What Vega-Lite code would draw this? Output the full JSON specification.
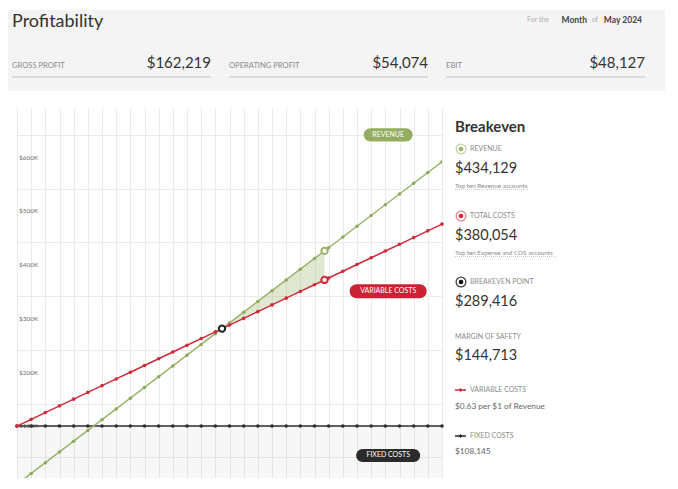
{
  "$schema": "https://vega.github.io/schema/vega-lite/v6.json",
  "background": "#ffffff",
  "padding": {"left": 8, "top": 10, "right": 0, "bottom": 0},
  "config": {"view": {"stroke": null}, "font": "Lato", "text": {"font": "Lato"}},
  "bounds": "flush",
  "spacing": 17,
  "datasets": {
    "kpis": [
      {"kpi": "GROSS PROFIT", "value": "$162,219"},
      {"kpi": "OPERATING PROFIT", "value": "$54,074"},
      {"kpi": "EBIT", "value": "$48,127"}
    ],
    "lines": [
      {"sales": 0, "revenue": 0, "totalCosts": 108145, "fixedCosts": 108145},
      {"sales": 20000, "revenue": 20000, "totalCosts": 120671, "fixedCosts": 108145},
      {"sales": 40000, "revenue": 40000, "totalCosts": 133197, "fixedCosts": 108145},
      {"sales": 60000, "revenue": 60000, "totalCosts": 145723, "fixedCosts": 108145},
      {"sales": 80000, "revenue": 80000, "totalCosts": 158249, "fixedCosts": 108145},
      {"sales": 100000, "revenue": 100000, "totalCosts": 170775, "fixedCosts": 108145},
      {"sales": 120000, "revenue": 120000, "totalCosts": 183301, "fixedCosts": 108145},
      {"sales": 140000, "revenue": 140000, "totalCosts": 195827, "fixedCosts": 108145},
      {"sales": 160000, "revenue": 160000, "totalCosts": 208353, "fixedCosts": 108145},
      {"sales": 180000, "revenue": 180000, "totalCosts": 220879, "fixedCosts": 108145},
      {"sales": 200000, "revenue": 200000, "totalCosts": 233405, "fixedCosts": 108145},
      {"sales": 220000, "revenue": 220000, "totalCosts": 245931, "fixedCosts": 108145},
      {"sales": 240000, "revenue": 240000, "totalCosts": 258457, "fixedCosts": 108145},
      {"sales": 260000, "revenue": 260000, "totalCosts": 270983, "fixedCosts": 108145},
      {"sales": 280000, "revenue": 280000, "totalCosts": 283509, "fixedCosts": 108145},
      {"sales": 300000, "revenue": 300000, "totalCosts": 296035, "fixedCosts": 108145},
      {"sales": 320000, "revenue": 320000, "totalCosts": 308561, "fixedCosts": 108145},
      {"sales": 340000, "revenue": 340000, "totalCosts": 321087, "fixedCosts": 108145},
      {"sales": 360000, "revenue": 360000, "totalCosts": 333613, "fixedCosts": 108145},
      {"sales": 380000, "revenue": 380000, "totalCosts": 346139, "fixedCosts": 108145},
      {"sales": 400000, "revenue": 400000, "totalCosts": 358665, "fixedCosts": 108145},
      {"sales": 420000, "revenue": 420000, "totalCosts": 371191, "fixedCosts": 108145},
      {"sales": 440000, "revenue": 440000, "totalCosts": 383717, "fixedCosts": 108145},
      {"sales": 460000, "revenue": 460000, "totalCosts": 396243, "fixedCosts": 108145},
      {"sales": 480000, "revenue": 480000, "totalCosts": 408769, "fixedCosts": 108145},
      {"sales": 500000, "revenue": 500000, "totalCosts": 421295, "fixedCosts": 108145},
      {"sales": 520000, "revenue": 520000, "totalCosts": 433821, "fixedCosts": 108145},
      {"sales": 540000, "revenue": 540000, "totalCosts": 446347, "fixedCosts": 108145},
      {"sales": 560000, "revenue": 560000, "totalCosts": 458873, "fixedCosts": 108145},
      {"sales": 580000, "revenue": 580000, "totalCosts": 471399, "fixedCosts": 108145},
      {"sales": 600000, "revenue": 600000, "totalCosts": 483925, "fixedCosts": 108145}
    ],
    "yticks": [
      {"sales": 0, "value": 100000, "label": "$100K"},
      {"sales": 0, "value": 200000, "label": "$200K"},
      {"sales": 0, "value": 300000, "label": "$300K"},
      {"sales": 0, "value": 400000, "label": "$400K"},
      {"sales": 0, "value": 500000, "label": "$500K"},
      {"sales": 0, "value": 600000, "label": "$600K"}
    ],
    "margin": [
      {"sales": 289416, "revenue": 289416, "totalCosts": 289416},
      {"sales": 434129, "revenue": 434129, "totalCosts": 380054}
    ],
    "markers": [
      {"sales": 434129, "value": 434129, "series": "Revenue"},
      {"sales": 434129, "value": 380054, "series": "Total costs"},
      {"sales": 289416, "value": 289416, "series": "Breakeven point"}
    ],
    "pills": [
      {"label": "REVENUE", "sales": 524000, "value": 650000},
      {"label": "VARIABLE COSTS", "sales": 524000, "value": 359000},
      {"label": "FIXED COSTS", "sales": 524000, "value": 53400}
    ],
    "side": [
      {"block": "REVENUE", "part": "label", "text": "REVENUE"},
      {"block": "REVENUE", "part": "value", "text": "$434,129"},
      {"block": "REVENUE", "part": "note", "text": "Top ten Revenue accounts"},
      {"block": "TOTAL COSTS", "part": "label", "text": "TOTAL COSTS"},
      {"block": "TOTAL COSTS", "part": "value", "text": "$380,054"},
      {"block": "TOTAL COSTS", "part": "note", "text": "Top ten Expense and COS accounts"},
      {"block": "BREAKEVEN POINT", "part": "label", "text": "BREAKEVEN POINT"},
      {"block": "BREAKEVEN POINT", "part": "value", "text": "$289,416"},
      {"block": "MARGIN OF SAFETY", "part": "label", "text": "MARGIN OF SAFETY"},
      {"block": "MARGIN OF SAFETY", "part": "value", "text": "$144,713"},
      {"block": "VARIABLE COSTS", "part": "label", "text": "VARIABLE COSTS"},
      {"block": "VARIABLE COSTS", "part": "note", "text": "$0.63 per $1 of Revenue"},
      {"block": "FIXED COSTS", "part": "label", "text": "FIXED COSTS"},
      {"block": "FIXED COSTS", "part": "note", "text": "$108,145"}
    ]
  },
  "vconcat": [
    {
      "width": 657,
      "height": 81,
      "view": {"fill": "#f4f4f4", "stroke": null},
      "data": {"name": "kpis"},
      "encoding": {
        "x": {"field": "kpi", "type": "nominal", "sort": null, "scale": {"type": "band", "domain": ["GROSS PROFIT", "OPERATING PROFIT", "EBIT"], "range": [4, 637], "paddingInner": 0.083, "paddingOuter": 0}, "axis": null},
        "y": {"datum": "kpi", "type": "nominal", "scale": {"type": "point", "domain": ["title", "kpi"], "range": [11, 56], "padding": 0}, "axis": null}
      },
      "layer": [
        {
          "mark": {"type": "tick", "orient": "horizontal", "size": 199, "thickness": 1.5, "color": "#d3d3d3", "yOffset": 11, "opacity": 1},
          "encoding": {}
        },
        {
          "mark": {"type": "text", "align": "left", "fontSize": 7.6, "color": "#8a8a8a"},
          "encoding": {"x": {"field": "kpi", "type": "nominal", "bandPosition": 0}, "text": {"field": "kpi"}}
        },
        {
          "mark": {"type": "text", "align": "right", "fontSize": 15, "color": "#333333", "dy": -3},
          "encoding": {"x": {"field": "kpi", "type": "nominal", "bandPosition": 1}, "text": {"field": "value"}}
        },
        {
          "data": {"values": [{"text": "Profitability"}]},
          "mark": {"type": "text", "align": "left", "fontSize": 18, "color": "#333333", "dy": 1},
          "encoding": {"x": {"datum": "GROSS PROFIT", "type": "nominal", "bandPosition": 0}, "y": {"datum": "title", "type": "nominal"}, "text": {"field": "text"}}
        },
        {
          "data": {"values": [{"text": "May 2024"}]},
          "mark": {"type": "text", "align": "right", "fontSize": 8.5, "fontWeight": "bold", "color": "#444444", "dx": -3, "dy": -1},
          "encoding": {"x": {"datum": "EBIT", "type": "nominal", "bandPosition": 1}, "y": {"datum": "title", "type": "nominal"}, "text": {"field": "text"}}
        },
        {
          "data": {"values": [{"text": "of"}]},
          "mark": {"type": "text", "align": "right", "fontSize": 7, "color": "#b0b0b0", "dx": -47, "dy": -1},
          "encoding": {"x": {"datum": "EBIT", "type": "nominal", "bandPosition": 1}, "y": {"datum": "title", "type": "nominal"}, "text": {"field": "text"}}
        },
        {
          "data": {"values": [{"text": "Month"}]},
          "mark": {"type": "text", "align": "right", "fontSize": 8.5, "fontWeight": "bold", "color": "#444444", "dx": -58, "dy": -1},
          "encoding": {"x": {"datum": "EBIT", "type": "nominal", "bandPosition": 1}, "y": {"datum": "title", "type": "nominal"}, "text": {"field": "text"}}
        },
        {
          "data": {"values": [{"text": "For the"}]},
          "mark": {"type": "text", "align": "right", "fontSize": 7, "color": "#b0b0b0", "dx": -96, "dy": -1},
          "encoding": {"x": {"datum": "EBIT", "type": "nominal", "bandPosition": 1}, "y": {"datum": "title", "type": "nominal"}, "text": {"field": "text"}}
        }
      ]
    },
    {
      "bounds": "flush",
      "spacing": 8,
      "hconcat": [
        {
          "width": 1,
          "height": 370,
          "data": {"values": [{"t": ""}]},
          "mark": {"type": "text"},
          "encoding": {"text": {"field": "t"}}
        },
        {
          "width": 425,
          "height": 370,
          "data": {"name": "lines"},
          "encoding": {
            "x": {
              "field": "sales", "type": "quantitative",
              "scale": {"domain": [0, 600000], "nice": false, "zero": false},
              "axis": {"values": [0, 20000, 40000, 60000, 80000, 100000, 120000, 140000, 160000, 180000, 200000, 220000, 240000, 260000, 280000, 300000, 320000, 340000, 360000, 380000, 400000, 420000, 440000, 460000, 480000, 500000, 520000, 540000, 560000, 580000, 600000], "grid": true, "gridColor": "#ebebeb", "gridWidth": 1, "labels": false, "ticks": false, "domain": false, "title": null}
            }
          },
          "layer": [
            {
              "mark": {"type": "area", "color": "#000000", "opacity": 0.03, "clip": true},
              "encoding": {
                "y": {
                  "field": "fixedCosts", "type": "quantitative",
                  "scale": {"domain": [11500, 700000], "nice": false, "zero": false},
                  "axis": {"values": [50000, 100000, 150000, 200000, 250000, 300000, 350000, 400000, 450000, 500000, 550000, 600000, 650000, 700000], "grid": true, "gridColor": "#ebebeb", "gridWidth": 1, "labels": false, "ticks": false, "domain": false, "title": null}
                },
                "y2": {"datum": 0}
              }
            },
            {
              "data": {"name": "yticks"},
              "mark": {"type": "text", "align": "left", "baseline": "bottom", "dx": 2, "dy": -1, "fontSize": 6.5, "color": "#707070", "opacity": 1},
              "encoding": {"y": {"field": "value", "type": "quantitative"}, "text": {"field": "label", "type": "nominal"}}
            },
            {
              "data": {"name": "margin"},
              "mark": {"type": "area", "color": "#9ab46a", "opacity": 0.3},
              "encoding": {"y": {"field": "revenue", "type": "quantitative"}, "y2": {"field": "totalCosts"}}
            },
            {
              "mark": {"type": "line", "color": "#2d2d2d", "strokeWidth": 1.5},
              "encoding": {"y": {"field": "fixedCosts", "type": "quantitative"}}
            },
            {
              "mark": {"type": "point", "filled": true, "color": "#2d2d2d", "size": 13, "opacity": 1},
              "encoding": {"y": {"field": "fixedCosts", "type": "quantitative"}}
            },
            {
              "mark": {"type": "line", "color": "#9ab46a", "strokeWidth": 1.5, "clip": true},
              "encoding": {"y": {"field": "revenue", "type": "quantitative"}}
            },
            {
              "mark": {"type": "point", "filled": true, "color": "#8fab5c", "size": 13, "opacity": 1, "clip": true},
              "encoding": {"y": {"field": "revenue", "type": "quantitative"}}
            },
            {
              "mark": {"type": "line", "color": "#cf2a3a", "strokeWidth": 1.5},
              "encoding": {"y": {"field": "totalCosts", "type": "quantitative"}}
            },
            {
              "mark": {"type": "point", "filled": true, "color": "#cf2a3a", "size": 13, "opacity": 1},
              "encoding": {"y": {"field": "totalCosts", "type": "quantitative"}}
            },
            {
              "data": {"name": "markers"},
              "mark": {"type": "point", "filled": false, "fill": "#ffffff", "strokeWidth": 2, "size": 40, "opacity": 1},
              "encoding": {
                "y": {"field": "value", "type": "quantitative"},
                "stroke": {"field": "series", "type": "nominal", "scale": {"domain": ["Revenue", "Total costs", "Breakeven point"], "range": ["#9ab46a", "#cf2a3a", "#222222"]}, "legend": null}
              }
            },
            {
              "data": {"name": "pills"},
              "mark": {"type": "point", "filled": true, "size": 6400, "opacity": 1, "strokeWidth": 0},
              "encoding": {
                "y": {"field": "value", "type": "quantitative"},
                "fill": {"field": "label", "type": "nominal", "scale": {"domain": ["REVENUE", "VARIABLE COSTS", "FIXED COSTS"], "range": ["#93ae60", "#cc2233", "#2b2b2b"]}, "legend": null},
                "shape": {"field": "label", "type": "nominal", "scale": {"domain": ["REVENUE", "VARIABLE COSTS", "FIXED COSTS"], "range": [
                  "M-0.445,-0.1675 L0.445,-0.1675 A0.1675,0.1675 0 0 1 0.445,0.1675 L-0.445,0.1675 A0.1675,0.1675 0 0 1 -0.445,-0.1675 Z",
                  "M-0.7875,-0.175 L0.7875,-0.175 A0.175,0.175 0 0 1 0.7875,0.175 L-0.7875,0.175 A0.175,0.175 0 0 1 -0.7875,-0.175 Z",
                  "M-0.6375,-0.1625 L0.6375,-0.1625 A0.1625,0.1625 0 0 1 0.6375,0.1625 L-0.6375,0.1625 A0.1625,0.1625 0 0 1 -0.6375,-0.1625 Z"
                ]}, "legend": null}
              }
            },
            {
              "data": {"name": "pills"},
              "mark": {"type": "text", "color": "#ffffff", "fontSize": 7, "align": "center", "baseline": "middle"},
              "encoding": {"y": {"field": "value", "type": "quantitative"}, "text": {"field": "label"}}
            }
          ]
        },
        {
          "spacing": 0,
          "bounds": "flush",
          "vconcat": [
            {
              "width": 195,
              "height": 33,
              "data": {"values": [{"title": "Breakeven"}]},
              "layer": [
                {"mark": {"type": "text", "x": 5, "y": 19, "align": "left", "fontSize": 15, "fontWeight": "bold", "color": "#333333"}, "encoding": {"text": {"field": "title"}}},
                {"mark": {"type": "rule", "x": 5, "x2": 195, "y": 30, "color": "#e4e4e4", "strokeWidth": 1}, "encoding": {}}
              ]
            },
            {
              "width": 195,
              "height": 67,
              "data": {"name": "side"},
              "transform": [{"filter": "datum.block === 'REVENUE'"}],
              "encoding": {"y": {"field": "part", "type": "nominal", "scale": {"type": "point", "domain": ["label", "value", "note"], "range": [8, 45], "padding": 0}, "axis": null}},
              "layer": [
                {"transform": [{"filter": "datum.part === 'label'"}], "mark": {"type": "point", "x": 11, "filled": false, "fill": "#ffffff", "stroke": "#c7d5ac", "strokeWidth": 1.3, "size": 95, "opacity": 1}},
                {"transform": [{"filter": "datum.part === 'label'"}], "mark": {"type": "point", "x": 11, "filled": true, "color": "#9ab46a", "size": 22, "opacity": 1}},
                {"transform": [{"filter": "datum.part === 'label'"}], "mark": {"type": "text", "x": 20, "align": "left", "fontSize": 7, "color": "#8c8c8c"}, "encoding": {"text": {"field": "text"}}},
                {"transform": [{"filter": "datum.part === 'value'"}], "mark": {"type": "text", "x": 5, "align": "left", "fontSize": 14.5, "color": "#333333", "dy": 1}, "encoding": {"text": {"field": "text"}}},
                {"transform": [{"filter": "datum.part === 'note'"}], "mark": {"type": "text", "x": 5, "align": "left", "fontSize": 6.3, "color": "#8c8c8c"}, "encoding": {"text": {"field": "text"}}},
                {"transform": [{"filter": "datum.part === 'note'"}], "mark": {"type": "rule", "x": 5, "x2": 79, "yOffset": 3.5, "color": "#bbbbbb", "strokeWidth": 0.8, "strokeDash": [1, 1]}}
              ]
            },
            {
              "width": 195,
              "height": 66,
              "data": {"name": "side"},
              "transform": [{"filter": "datum.block === 'TOTAL COSTS'"}],
              "encoding": {"y": {"field": "part", "type": "nominal", "scale": {"type": "point", "domain": ["label", "value", "note"], "range": [8, 45], "padding": 0}, "axis": null}},
              "layer": [
                {"transform": [{"filter": "datum.part === 'label'"}], "mark": {"type": "point", "x": 11, "filled": false, "fill": "#ffffff", "stroke": "#e08a93", "strokeWidth": 1.3, "size": 95, "opacity": 1}},
                {"transform": [{"filter": "datum.part === 'label'"}], "mark": {"type": "point", "x": 11, "filled": true, "color": "#cf2a3a", "size": 22, "opacity": 1}},
                {"transform": [{"filter": "datum.part === 'label'"}], "mark": {"type": "text", "x": 20, "align": "left", "fontSize": 7, "color": "#8c8c8c"}, "encoding": {"text": {"field": "text"}}},
                {"transform": [{"filter": "datum.part === 'value'"}], "mark": {"type": "text", "x": 5, "align": "left", "fontSize": 14.5, "color": "#333333", "dy": 1}, "encoding": {"text": {"field": "text"}}},
                {"transform": [{"filter": "datum.part === 'note'"}], "mark": {"type": "text", "x": 5, "align": "left", "fontSize": 6.3, "color": "#8c8c8c"}, "encoding": {"text": {"field": "text"}}},
                {"transform": [{"filter": "datum.part === 'note'"}], "mark": {"type": "rule", "x": 5, "x2": 106, "yOffset": 3.5, "color": "#bbbbbb", "strokeWidth": 0.8, "strokeDash": [1, 1]}}
              ]
            },
            {
              "width": 195,
              "height": 55,
              "data": {"name": "side"},
              "transform": [{"filter": "datum.block === 'BREAKEVEN POINT'"}],
              "encoding": {"y": {"field": "part", "type": "nominal", "scale": {"type": "point", "domain": ["label", "value"], "range": [8, 28], "padding": 0}, "axis": null}},
              "layer": [
                {"transform": [{"filter": "datum.part === 'label'"}], "mark": {"type": "point", "x": 11, "filled": false, "fill": "#ffffff", "stroke": "#444444", "strokeWidth": 1.3, "size": 95, "opacity": 1}},
                {"transform": [{"filter": "datum.part === 'label'"}], "mark": {"type": "point", "x": 11, "filled": true, "color": "#111111", "size": 22, "opacity": 1}},
                {"transform": [{"filter": "datum.part === 'label'"}], "mark": {"type": "text", "x": 20, "align": "left", "fontSize": 7, "color": "#8c8c8c"}, "encoding": {"text": {"field": "text"}}},
                {"transform": [{"filter": "datum.part === 'value'"}], "mark": {"type": "text", "x": 5, "align": "left", "fontSize": 14.5, "color": "#333333"}, "encoding": {"text": {"field": "text"}}}
              ]
            },
            {
              "width": 195,
              "height": 54,
              "data": {"name": "side"},
              "transform": [{"filter": "datum.block === 'MARGIN OF SAFETY'"}],
              "encoding": {"y": {"field": "part", "type": "nominal", "scale": {"type": "point", "domain": ["label", "value"], "range": [8, 27], "padding": 0}, "axis": null}},
              "layer": [
                {"transform": [{"filter": "datum.part === 'label'"}], "mark": {"type": "text", "x": 5, "align": "left", "fontSize": 7, "color": "#8c8c8c"}, "encoding": {"text": {"field": "text"}}},
                {"transform": [{"filter": "datum.part === 'value'"}], "mark": {"type": "text", "x": 5, "align": "left", "fontSize": 14.5, "color": "#333333"}, "encoding": {"text": {"field": "text"}}}
              ]
            },
            {
              "width": 195,
              "height": 46,
              "data": {"name": "side"},
              "transform": [{"filter": "datum.block === 'VARIABLE COSTS'"}],
              "encoding": {"y": {"field": "part", "type": "nominal", "scale": {"type": "point", "domain": ["label", "note"], "range": [7, 24], "padding": 0}, "axis": null}},
              "layer": [
                {"transform": [{"filter": "datum.part === 'label'"}], "mark": {"type": "point", "x": 10.5, "shape": "stroke", "filled": false, "stroke": "#cf2a3a", "strokeWidth": 1.5, "size": 121, "opacity": 1}},
                {"transform": [{"filter": "datum.part === 'label'"}], "mark": {"type": "point", "x": 10.5, "shape": "diamond", "filled": true, "color": "#cf2a3a", "size": 16, "opacity": 1}},
                {"transform": [{"filter": "datum.part === 'label'"}], "mark": {"type": "text", "x": 20, "align": "left", "fontSize": 7, "color": "#8c8c8c"}, "encoding": {"text": {"field": "text"}}},
                {"transform": [{"filter": "datum.part === 'note'"}], "mark": {"type": "text", "x": 5, "align": "left", "fontSize": 8.3, "color": "#666666"}, "encoding": {"text": {"field": "text"}}}
              ]
            },
            {
              "width": 195,
              "height": 49,
              "data": {"name": "side"},
              "transform": [{"filter": "datum.block === 'FIXED COSTS'"}],
              "encoding": {"y": {"field": "part", "type": "nominal", "scale": {"type": "point", "domain": ["label", "note"], "range": [7, 23], "padding": 0}, "axis": null}},
              "layer": [
                {"transform": [{"filter": "datum.part === 'label'"}], "mark": {"type": "point", "x": 10.5, "shape": "stroke", "filled": false, "stroke": "#2d2d2d", "strokeWidth": 1.5, "size": 121, "opacity": 1}},
                {"transform": [{"filter": "datum.part === 'label'"}], "mark": {"type": "point", "x": 10.5, "shape": "diamond", "filled": true, "color": "#2d2d2d", "size": 16, "opacity": 1}},
                {"transform": [{"filter": "datum.part === 'label'"}], "mark": {"type": "text", "x": 20, "align": "left", "fontSize": 7, "color": "#8c8c8c"}, "encoding": {"text": {"field": "text"}}},
                {"transform": [{"filter": "datum.part === 'note'"}], "mark": {"type": "text", "x": 5, "align": "left", "fontSize": 8.3, "color": "#666666"}, "encoding": {"text": {"field": "text"}}}
              ]
            }
          ]
        }
      ]
    }
  ]
}
